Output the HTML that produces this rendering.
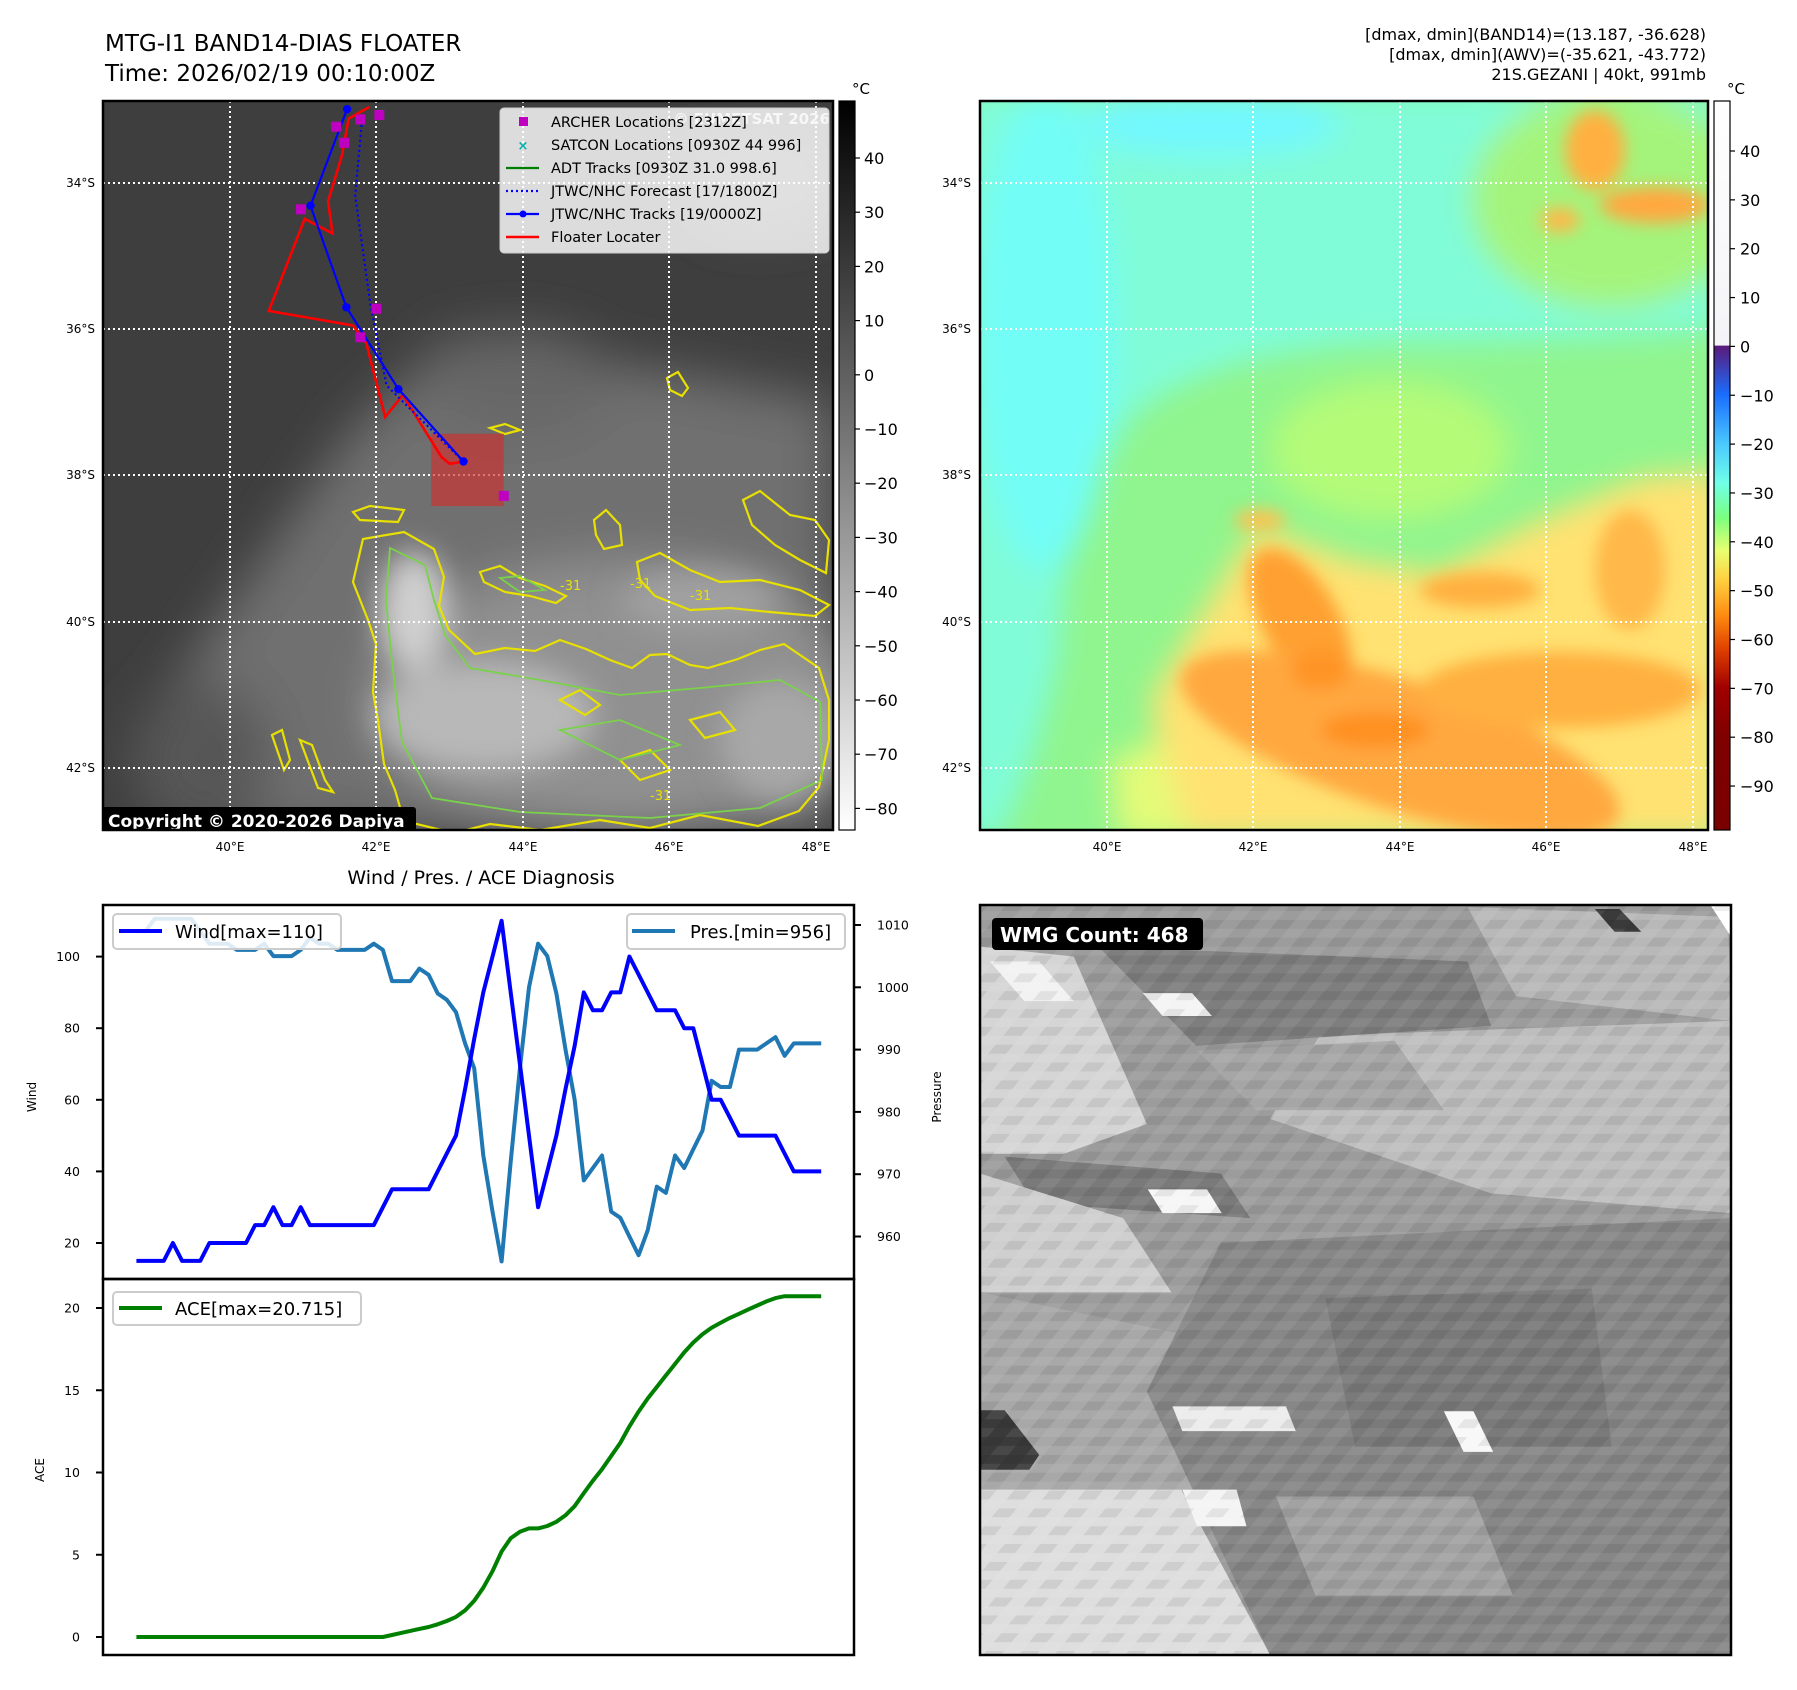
<!DOCTYPE html>
<html><head><meta charset="utf-8">
<style>
html,body{margin:0;padding:0;background:#fff;}
svg{display:block;font-family:"DejaVu Sans","Liberation Sans",sans-serif;}
</style></head>
<body>
<svg id="fig" width="1797" height="1690" viewBox="0 0 1797 1690" xmlns="http://www.w3.org/2000/svg">
<defs>
 <clipPath id="clipL"><rect x="103" y="101" width="730" height="729"/></clipPath>
 <clipPath id="clipR"><rect x="980" y="101" width="728" height="729"/></clipPath>
 <clipPath id="clipB"><rect x="980" y="905" width="751" height="750"/></clipPath>
 <filter id="b8" x="-50%" y="-50%" width="200%" height="200%"><feGaussianBlur stdDeviation="8"/></filter>
 <filter id="b15" x="-50%" y="-50%" width="200%" height="200%"><feGaussianBlur stdDeviation="15"/></filter>
 <filter id="b25" x="-50%" y="-50%" width="200%" height="200%"><feGaussianBlur stdDeviation="25"/></filter>
 <linearGradient id="gGray" x1="0" y1="0" x2="0" y2="1"><stop offset="0" stop-color="#000"/><stop offset="1" stop-color="#fff"/></linearGradient>
 <linearGradient id="gCol" x1="0" y1="0" x2="0" y2="1">
  <stop offset="0" stop-color="#ffffff"/><stop offset="0.335" stop-color="#f4f4f8"/>
  <stop offset="0.336" stop-color="#5a1a7a"/><stop offset="0.403" stop-color="#1a6dff"/>
  <stop offset="0.47" stop-color="#4ac8ff"/><stop offset="0.524" stop-color="#70ffe8"/>
  <stop offset="0.571" stop-color="#7aff80"/><stop offset="0.617" stop-color="#e8ff70"/>
  <stop offset="0.657" stop-color="#ffd040"/><stop offset="0.705" stop-color="#ff8c10"/>
  <stop offset="0.752" stop-color="#e04000"/><stop offset="0.805" stop-color="#a00000"/>
  <stop offset="0.872" stop-color="#800000"/><stop offset="1" stop-color="#7a0000"/>
 </linearGradient>
 <pattern id="streak" width="36" height="18" patternUnits="userSpaceOnUse" patternTransform="skewX(-40)">
  <rect x="0" y="0" width="18" height="9" fill="#000" fill-opacity="0.07"/>
  <rect x="18" y="9" width="18" height="9" fill="#fff" fill-opacity="0.07"/>
 </pattern>
</defs>

<!-- Titles -->
<text x="105" y="51" font-size="23">MTG-I1 BAND14-DIAS FLOATER</text>
<text x="105" y="81" font-size="23">Time: 2026/02/19 00:10:00Z</text>
<g font-size="16" text-anchor="end">
 <text x="1706" y="40">[dmax, dmin](BAND14)=(13.187, -36.628)</text>
 <text x="1706" y="60">[dmax, dmin](AWV)=(-35.621, -43.772)</text>
 <text x="1706" y="80">21S.GEZANI | 40kt, 991mb</text>
</g>

<!-- LEFT MAP -->
<g clip-path="url(#clipL)">
 <rect x="103" y="101" width="730" height="729" fill="#3e3e3e"/>
 <g filter="url(#b25)">
  <polygon points="454,334 834,401 834,833 227,833 151,716 252,573 353,429" fill="#707070"/>
  <ellipse cx="620" cy="700" rx="250" ry="140" fill="#909090"/>
  <ellipse cx="520" cy="380" rx="90" ry="50" fill="#666"/>
  <ellipse cx="760" cy="180" rx="80" ry="50" fill="#585858"/>
  <ellipse cx="200" cy="760" rx="70" ry="80" fill="#565656"/>
 </g>
 <g filter="url(#b15)">
  <ellipse cx="414" cy="611" rx="35" ry="60" fill="#cfcfcf"/>
  <ellipse cx="485" cy="716" rx="110" ry="55" fill="#b8b8b8"/>
  <ellipse cx="700" cy="600" rx="80" ry="30" fill="#a0a0a0"/>
  <ellipse cx="780" cy="740" rx="60" ry="60" fill="#a8a8a8"/>
 </g>
 <g fill="none" stroke="#e8e000" stroke-width="2.2">
  <path d="M363,539 L404,532 L434,549 L444,577 L439,606 L449,630 L475,654 L505,648 L535,651 L560,640 L586,649 L610,660 L632,668 L650,655 L667,654 L690,665 L708,668 L738,659 L760,650 L784,644 L800,655 L819,668 L829,700 L829,740 L819,787 L799,811 L758,826 L700,815 L650,828 L600,820 L540,830 L490,824 L454,833 L404,821 L395,790 L384,764 L378,720 L373,692 L376,644 L368,620 L353,582 Z"/>
  <path d="M480,572 L500,566 L520,578 L545,586 L566,596 L556,603 L530,596 L505,592 L484,582 Z"/>
  <path d="M637,562 L660,553 L690,570 L720,582 L760,580 L800,590 L829,605 L815,616 L770,612 L730,608 L690,610 L655,596 L640,580 Z"/>
  <path d="M743,500 L760,491 L790,515 L815,520 L829,540 L826,573 L800,560 L775,545 L752,525 Z"/>
  <path d="M594,520 L606,510 L620,525 L622,545 L604,549 L596,535 Z"/>
  <path d="M667,378 L678,372 L688,388 L682,396 L670,390 Z"/>
  <path d="M490,428 L505,424 L520,430 L505,434 Z"/>
  <path d="M272,735 L282,730 L290,760 L284,770 Z"/>
  <path d="M300,740 L312,745 L325,780 L333,792 L318,788 Z"/>
  <path d="M353,512 L370,506 L404,510 L398,522 L360,520 Z"/>
  <path d="M560,700 L580,690 L600,705 L585,715 Z"/>
  <path d="M690,720 L720,712 L735,730 L705,738 Z"/>
  <path d="M620,760 L650,750 L670,770 L640,780 Z"/>
 </g>
 <g fill="none" stroke="#7ad24a" stroke-width="1.8">
  <path d="M390,548 L425,565 L434,600 L445,635 L470,668 L540,680 L620,695 L700,688 L780,680 L820,702 L822,780 L760,808 L650,818 L520,812 L432,798 L402,742 L392,662 L386,600 Z"/>
  <path d="M500,578 L520,576 L545,590 L520,592 Z"/>
  <path d="M560,730 L620,720 L680,745 L620,760 Z"/>
 </g>
 <g font-size="13" fill="#e8e000">
  <text x="560" y="590">-31</text><text x="630" y="588">-31</text><text x="690" y="600">-31</text><text x="650" y="800">-31</text>
 </g>
 <g stroke="#fff" stroke-width="2" stroke-dasharray="2,3" fill="none">
  <line x1="230" y1="101" x2="230" y2="830"/><line x1="376" y1="101" x2="376" y2="830"/>
  <line x1="523" y1="101" x2="523" y2="830"/><line x1="669" y1="101" x2="669" y2="830"/>
  <line x1="816" y1="101" x2="816" y2="830"/>
  <line x1="103" y1="183" x2="833" y2="183"/><line x1="103" y1="329" x2="833" y2="329"/>
  <line x1="103" y1="475" x2="833" y2="475"/><line x1="103" y1="622" x2="833" y2="622"/>
  <line x1="103" y1="768" x2="833" y2="768"/>
 </g>
 <g id="tracks"></g>
 <text x="830" y="124" font-size="15" font-weight="bold" fill="#cfcfcf" text-anchor="end">© EUMETSAT 2026</text>
 <g>
  <rect x="500" y="108" width="329" height="145" rx="4" fill="#fff" fill-opacity="0.82" stroke="#ccc"/>
  <g font-size="14.5" fill="#000">
   <rect x="519" y="117" width="9" height="9" fill="#c000c0"/>
   <text x="551" y="127">ARCHER Locations [2312Z]</text>
   <text x="523" y="150" fill="#00b0b0" font-size="13" text-anchor="middle" font-weight="bold">×</text>
   <text x="551" y="150">SATCON Locations [0930Z 44 996]</text>
   <line x1="506" y1="168" x2="539" y2="168" stroke="#008000" stroke-width="2.2"/>
   <text x="551" y="173">ADT Tracks [0930Z 31.0 998.6]</text>
   <line x1="506" y1="191" x2="539" y2="191" stroke="#0000ff" stroke-width="2.2" stroke-dasharray="2,3"/>
   <text x="551" y="196">JTWC/NHC Forecast [17/1800Z]</text>
   <line x1="506" y1="214" x2="539" y2="214" stroke="#0000ff" stroke-width="2.2"/>
   <circle cx="523" cy="214" r="3.5" fill="#0000ff"/>
   <text x="551" y="219">JTWC/NHC Tracks [19/0000Z]</text>
   <line x1="506" y1="237" x2="539" y2="237" stroke="#ff0000" stroke-width="2.5"/>
   <text x="551" y="242">Floater Locater</text>
  </g>
 </g>
 <g>
  <rect x="102" y="807" width="314" height="27" rx="3" fill="#000"/>
  <text x="108" y="827" font-size="17" font-weight="bold" fill="#fff">Copyright © 2020-2026 Dapiya</text>
 </g>
</g>
<rect x="103" y="101" width="730" height="729" fill="none" stroke="#000" stroke-width="2.5"/>
<g font-size="12">
 <g text-anchor="end"><text x="95" y="187">34°S</text><text x="95" y="333">36°S</text><text x="95" y="479">38°S</text><text x="95" y="626">40°S</text><text x="95" y="772">42°S</text></g>
 <g text-anchor="middle"><text x="230" y="851">40°E</text><text x="376" y="851">42°E</text><text x="523" y="851">44°E</text><text x="669" y="851">46°E</text><text x="816" y="851">48°E</text></g>
</g>
<g>
 <rect x="839" y="101" width="16" height="729" fill="url(#gGray)" stroke="#000" stroke-width="1.2"/>
 <text x="852" y="94" font-size="15">°C</text>
 <g id="cbL" font-size="16"></g>
</g>

<!-- RIGHT MAP -->
<g clip-path="url(#clipR)">
 <rect x="980" y="101" width="728" height="729" fill="#90f58e"/>
 <g filter="url(#b15)">
  <path d="M960,90 L1720,90 L1720,330 Q1500,345 1400,342 Q1200,350 1130,420 Q1060,520 1060,650 Q1040,750 1000,840 L960,840 Z" fill="#80fcd8"/>
  <ellipse cx="1045" cy="330" rx="70" ry="240" fill="#72fdf6"/>
  <ellipse cx="1210" cy="125" rx="130" ry="30" fill="#72f8ff"/>
  <ellipse cx="1610" cy="200" rx="140" ry="110" fill="#a4f47c"/>
  <ellipse cx="1390" cy="450" rx="120" ry="70" fill="#b4fb78"/>
  <path d="M1150,700 L1210,600 L1257,525 L1350,560 L1437,573 L1540,520 L1642,477 L1720,470 L1720,840 L1180,840 Z" fill="#ffe272"/>
  <path d="M1110,760 L1160,740 L1190,840 L1120,840 Z" fill="#e4fb78"/>
 </g>
 <g filter="url(#b8)">
  <ellipse cx="1595" cy="150" rx="30" ry="40" fill="#ffb040"/>
  <ellipse cx="1655" cy="205" rx="55" ry="18" fill="#ffa840"/>
  <ellipse cx="1560" cy="220" rx="20" ry="12" fill="#ffb848"/>
  <ellipse cx="1300" cy="620" rx="38" ry="80" transform="rotate(-30 1300 620)" fill="#ffa030"/>
  <ellipse cx="1400" cy="745" rx="230" ry="65" transform="rotate(18 1400 745)" fill="#ffa840"/>
  <ellipse cx="1560" cy="690" rx="140" ry="38" fill="#ffb040"/>
  <ellipse cx="1630" cy="570" rx="35" ry="60" fill="#ffb848"/>
  <ellipse cx="1480" cy="590" rx="60" ry="18" fill="#ffb040"/>
  <ellipse cx="1375" cy="730" rx="55" ry="18" fill="#ff9020"/>
  <ellipse cx="1320" cy="670" rx="30" ry="20" fill="#ff9428"/>
  <ellipse cx="1260" cy="520" rx="25" ry="10" fill="#ffc050"/>
 </g>
 <g stroke="#fff" stroke-width="2" stroke-dasharray="2,3" fill="none">
  <line x1="1107" y1="101" x2="1107" y2="830"/><line x1="1253" y1="101" x2="1253" y2="830"/>
  <line x1="1400" y1="101" x2="1400" y2="830"/><line x1="1546" y1="101" x2="1546" y2="830"/>
  <line x1="1693" y1="101" x2="1693" y2="830"/>
  <line x1="980" y1="183" x2="1708" y2="183"/><line x1="980" y1="329" x2="1708" y2="329"/>
  <line x1="980" y1="475" x2="1708" y2="475"/><line x1="980" y1="622" x2="1708" y2="622"/>
  <line x1="980" y1="768" x2="1708" y2="768"/>
 </g>
</g>
<rect x="980" y="101" width="728" height="729" fill="none" stroke="#000" stroke-width="2.5"/>
<g font-size="12">
 <g text-anchor="end"><text x="971" y="187">34°S</text><text x="971" y="333">36°S</text><text x="971" y="479">38°S</text><text x="971" y="626">40°S</text><text x="971" y="772">42°S</text></g>
 <g text-anchor="middle"><text x="1107" y="851">40°E</text><text x="1253" y="851">42°E</text><text x="1400" y="851">44°E</text><text x="1546" y="851">46°E</text><text x="1693" y="851">48°E</text></g>
</g>
<g>
 <rect x="1714" y="101" width="16" height="729" fill="url(#gCol)" stroke="#000" stroke-width="1.2"/>
 <text x="1727" y="94" font-size="15">°C</text>
 <g id="cbR" font-size="16"></g>
</g>

<!-- BOTTOM LEFT CHARTS -->
<text x="481" y="884" font-size="19" text-anchor="middle">Wind / Pres. / ACE Diagnosis</text>
<g id="chart"></g>
<rect x="103" y="905" width="751" height="374" fill="none" stroke="#000" stroke-width="2.5"/>
<rect x="103" y="1279" width="751" height="376" fill="none" stroke="#000" stroke-width="2.5"/>
<text transform="translate(36,1097) rotate(-90)" font-size="12" text-anchor="middle">Wind</text>
<text transform="translate(941,1097) rotate(-90)" font-size="12" text-anchor="middle">Pressure</text>
<text transform="translate(44,1470) rotate(-90)" font-size="12" text-anchor="middle">ACE</text>
<g>
 <rect x="113" y="914" width="228" height="35" rx="4" fill="#fff" fill-opacity="0.85" stroke="#ccc" stroke-width="2"/>
 <line x1="119" y1="931" x2="162" y2="931" stroke="#0000ff" stroke-width="4"/>
 <text x="175" y="938" font-size="18">Wind[max=110]</text>
</g>
<g>
 <rect x="627" y="914" width="218" height="35" rx="4" fill="#fff" fill-opacity="0.85" stroke="#ccc" stroke-width="2"/>
 <line x1="632" y1="931" x2="675" y2="931" stroke="#1f77b4" stroke-width="4"/>
 <text x="690" y="938" font-size="18">Pres.[min=956]</text>
</g>
<g>
 <rect x="113" y="1292" width="248" height="33" rx="4" fill="#fff" fill-opacity="0.85" stroke="#ccc" stroke-width="2"/>
 <line x1="119" y1="1308" x2="162" y2="1308" stroke="#008000" stroke-width="4"/>
 <text x="175" y="1315" font-size="18">ACE[max=20.715]</text>
</g>

<!-- BOTTOM RIGHT MOSAIC -->
<g clip-path="url(#clipB)">
 <g transform="translate(980,905) scale(0.9869,0.9908) translate(-980,-903)">
 <rect x="980" y="903" width="761" height="757" fill="#9c9c9c"/>
 <polygon points="1474,905 1738,915 1741,1020 1523,995" fill="#b8b8b8"/>
 <polygon points="1324,1035 1741,1020 1741,1214 1498,1194 1274,1119" fill="#bebebe"/>
 <polygon points="1100,945 1474,960 1498,1025 1199,1045" fill="#7e7e7e"/>
 <polygon points="1200,1050 1400,1040 1450,1110 1260,1110" fill="#a6a6a6"/>
 <polygon points="980,945 1075,955 1149,1124 1065,1154 980,1154" fill="#d5d5d5"/>
 <polygon points="1005,1157 1224,1174 1254,1219 1035,1204" fill="#7a7a7a"/>
 <polygon points="980,1174 1125,1219 1174,1294 980,1294" fill="#cfcfcf"/>
 <polygon points="980,1294 1224,1344 1224,1493 980,1493" fill="#a8a8a8"/>
 <polygon points="1224,1244 1741,1219 1741,1660 1274,1660 1149,1394" fill="#878787"/>
 <polygon points="1330,1300 1600,1290 1620,1450 1360,1450" fill="#7a7a7a"/>
 <polygon points="1280,1500 1480,1500 1520,1600 1320,1600" fill="#a2a2a2"/>
 <polygon points="980,1493 1184,1493 1274,1660 980,1660" fill="#dedede"/>
 <polygon points="980,1413 1005,1413 1040,1458 1030,1473 980,1473" fill="#3a3a3a"/>
 <polygon points="1603,907 1628,907 1650,930 1623,930" fill="#3a3a3a"/>
 <polygon points="1720,903 1741,903 1741,935" fill="#fff"/>
 <polygon points="1145,992 1195,992 1215,1015 1165,1015" fill="#f4f4f4"/>
 <polygon points="1150,1190 1210,1190 1225,1214 1165,1214" fill="#f6f6f6"/>
 <polygon points="1450,1414 1480,1414 1500,1455 1470,1455" fill="#f8f8f8"/>
 <polygon points="1175,1409 1290,1409 1300,1434 1185,1434" fill="#ececec"/>
 <polygon points="1185,1493 1240,1493 1250,1530 1200,1530" fill="#f4f4f4"/>
 <polygon points="990,960 1040,960 1075,1000 1025,1000" fill="#f2f2f2"/>
 <rect x="980" y="903" width="761" height="757" fill="url(#streak)"/>
 </g>
</g>
<rect x="980" y="905" width="751" height="750" fill="none" stroke="#000" stroke-width="2.5"/>
<g>
 <rect x="992" y="918" width="211" height="32" rx="4" fill="#000"/>
 <text x="1000" y="942" font-size="20" font-weight="bold" fill="#fff">WMG Count: 468</text>
</g>
</svg>

<script>
// ---- chart data (6-hourly) ----
var windVals = [15,15,15,15,20,15,15,15,20,20,20,20,20,25,25,30,25,25,30,25,25,25,25,25,25,25,25,30,35,35,35,35,35,40,45,50,63,77,90,100,110,90,70,50,30,40,50,63,75,90,85,85,90,90,100,95,90,85,85,85,80,80,70,60,60,55,50,50,50,50,50,45,40,40,40,40];
var presVals = [1009,1009,1011,1011,1011,1011,1011,1009,1007,1007,1007,1006,1006,1006,1007,1005,1005,1005,1006,1008,1007,1007,1006,1006,1006,1006,1007,1006,1001,1001,1001,1003,1002,999,998,996,991,987,973,964,956,972,987,1000,1007,1005,999,990,982,969,971,973,964,963,960,957,961,968,967,973,971,974,977,985,984,984,990,990,990,991,992,989,991,991,991,991];
var aceVals = [0,0,0,0,0,0,0,0,0,0,0,0,0,0,0,0,0,0,0,0,0,0,0,0,0,0,0,0,0.12,0.25,0.37,0.49,0.61,0.77,0.97,1.22,1.62,2.2,3.0,4.0,5.2,6.0,6.4,6.6,6.6,6.75,7.0,7.4,7.95,8.75,9.5,10.2,11.0,11.8,12.8,13.7,14.5,15.2,15.9,16.6,17.3,17.9,18.4,18.8,19.1,19.4,19.65,19.9,20.15,20.4,20.6,20.715,20.715,20.715,20.715,20.715];
var windTicks = [20,40,60,80,100];
var presTicks = [960,970,980,990,1000,1010];
var aceTicks = [0,5,10,15,20];
var irCbTicks = [40,30,20,10,0,-10,-20,-30,-40,-50,-60,-70,-80];
var awvCbTicks = [40,30,20,10,0,-10,-20,-30,-40,-50,-60,-70,-80,-90];
// ---- map track data (lon E, lat S) ----
var jtwcLon = [41.60,41.10,41.59,42.30,43.19];
var jtwcLat = [32.99,34.31,35.70,36.82,37.81];
var fcstLon = [41.81,41.71,41.92,42.14,43.19];
var fcstLat = [33.07,34.17,35.67,36.77,37.81];
var floaterLon = [41.90,41.62,41.53,41.34,41.40,41.02,40.53,41.68,41.86,42.12,42.36,42.89,43.00,43.21];
var floaterLat = [32.96,33.12,33.62,34.25,34.69,34.49,35.75,35.95,36.19,37.20,36.90,37.75,37.84,37.81];
var archerLon = [42.04,41.78,41.45,41.56,40.97,42.00,41.78,43.74];
var archerLat = [33.07,33.13,33.23,33.45,34.36,35.72,36.11,38.28];
var floaterBoxLon = [42.75,43.74];
var floaterBoxLat = [37.43,38.42];

var NS = "http://www.w3.org/2000/svg";
function mk(tag, attrs, parent){ var e=document.createElementNS(NS,tag); for(var k in attrs) e.setAttribute(k,attrs[k]); parent.appendChild(e); return e; }

function xIdx(i){ return 136.4 + i*9.13; }
function yWind(w){ return 1243 - (w-20)*3.58; }
function yPres(p){ return 925 + (1010-p)*6.23; }
function yAce(a){ return 1637 - a*16.45; }
function mx(lon){ return 230 + (lon-40)*73.2; }
function my(lat){ return 183 + (lat-34)*73.1; }
function yIrCb(v){ return 158 + (40-v)*5.42; }
function yAwvCb(v){ return 151 + (40-v)*4.885; }

var chart = document.getElementById('chart');
function lineFrom(vals, yf){ var s=''; for(var i=0;i<vals.length;i++){ s += (i?' L':'M') + xIdx(i).toFixed(1)+','+yf(vals[i]).toFixed(1); } return s; }

var presPath = mk('path',{d:lineFrom(presVals,yPres),fill:'none',stroke:'#1f77b4','stroke-width':4,'stroke-linejoin':'round'},chart);


var windPath = mk('path',{d:lineFrom(windVals,yWind),fill:'none',stroke:'#0000ff','stroke-width':4,'stroke-linejoin':'round'},chart);


var acePath = mk('path',{d:lineFrom(aceVals,yAce),fill:'none',stroke:'#008000','stroke-width':4,'stroke-linejoin':'round'},chart);



windTicks.forEach(function(t){
  var y=yWind(t);
  var tk=mk('line',{x1:96,y1:y,x2:103,y2:y,stroke:'#000','stroke-width':2},chart);
  
  
  var lb=mk('text',{x:80,y:y+4.5,'font-size':12.5,'text-anchor':'end'},chart); lb.textContent=t;
  
  
});
presTicks.forEach(function(t){
  var y=yPres(t);
  var tk=mk('line',{x1:854,y1:y,x2:861,y2:y,stroke:'#000','stroke-width':2},chart);
  
  
  var lb=mk('text',{x:877,y:y+4.5,'font-size':12.5},chart); lb.textContent=t;
  
  
});
aceTicks.forEach(function(t){
  var y=yAce(t);
  var tk=mk('line',{x1:96,y1:y,x2:103,y2:y,stroke:'#000','stroke-width':2},chart);
  
  
  var lb=mk('text',{x:80,y:y+4.5,'font-size':12.5,'text-anchor':'end'},chart); lb.textContent=t;
  
  
});

var cbL=document.getElementById('cbL');
irCbTicks.forEach(function(t){
  var y=yIrCb(t);
  mk('line',{x1:855,y1:y,x2:860,y2:y,stroke:'#000','stroke-width':1.2},cbL);
  var lb=mk('text',{x:864,y:y+6},cbL); lb.textContent=(t<0?'\u2212'+(-t):t);
  
  
});
var cbR=document.getElementById('cbR');
awvCbTicks.forEach(function(t){
  var y=yAwvCb(t);
  mk('line',{x1:1730,y1:y,x2:1735,y2:y,stroke:'#000','stroke-width':1.2},cbR);
  var lb=mk('text',{x:1740,y:y+6},cbR); lb.textContent=(t<0?'\u2212'+(-t):t);
  
  
});

var tg=document.getElementById('tracks');
var box=mk('rect',{x:mx(floaterBoxLon[0]),y:my(floaterBoxLat[0]),width:mx(floaterBoxLon[1])-mx(floaterBoxLon[0]),height:my(floaterBoxLat[1])-my(floaterBoxLat[0]),fill:'#d03030','fill-opacity':0.65},tg);


function poly(lons,lats){ var s=''; for(var i=0;i<lons.length;i++){ s+=(i?' L':'M')+mx(lons[i]).toFixed(1)+','+my(lats[i]).toFixed(1);} return s; }
var fl=mk('path',{d:poly(floaterLon,floaterLat),fill:'none',stroke:'#ff0000','stroke-width':2.6},tg);


var fc=mk('path',{d:poly(fcstLon,fcstLat),fill:'none',stroke:'#0000ff','stroke-width':2.2,'stroke-dasharray':'2,3'},tg);


var jt=mk('path',{d:poly(jtwcLon,jtwcLat),fill:'none',stroke:'#0000ff','stroke-width':2.2},tg);


for(var i=0;i<jtwcLon.length;i++){
  var c=mk('circle',{cx:mx(jtwcLon[i]),cy:my(jtwcLat[i]),r:4.2,fill:'#0000ff'},tg);
  
  
}
for(var j=0;j<archerLon.length;j++){
  var sq=mk('rect',{x:mx(archerLon[j])-5,y:my(archerLat[j])-5,width:10,height:10,fill:'#c000c0'},tg);
  
  
}
</script>
</body></html>
